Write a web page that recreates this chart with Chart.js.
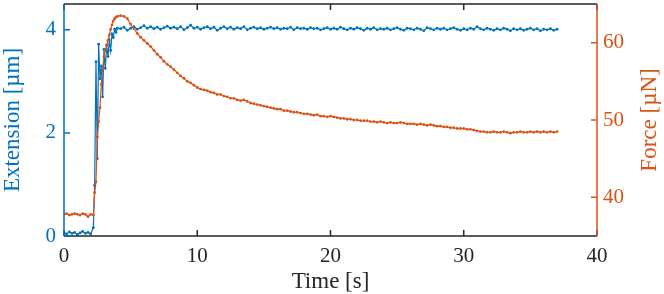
<!DOCTYPE html>
<html>
<head>
<meta charset="utf-8">
<script src="https://cdn.jsdelivr.net/npm/chart.js@4/dist/chart.umd.min.js"></script>
<style>
  html, body { margin: 0; padding: 0; background: #fff; }
  #wrap { width: 664px; height: 294px; position: relative; }
</style>
</head>
<body>
<div id="wrap"><canvas id="chart"></canvas></div>
<script>
// time base [s]
const times = [
    0, 0.2, 0.4, 0.6, 0.8, 1.0, 1.2, 1.4, 1.6, 1.8, 2.0, 2.2,
    2.3, 2.4, 2.5, 2.6, 2.7, 2.8, 2.9, 3.0, 3.1, 3.2, 3.3, 3.4, 3.5, 3.6, 3.7, 3.8, 3.9, 4.0,
    4.25, 4.5, 4.75, 5, 5.25, 5.5, 5.75, 6,
    6.25, 6.5, 6.75, 7, 7.25, 7.5, 7.75, 8,
    8.25, 8.5, 8.75, 9, 9.25, 9.5, 9.75, 10,
    10.25, 10.5, 10.75, 11, 11.25, 11.5, 11.75, 12,
    12.25, 12.5, 12.75, 13, 13.25, 13.5, 13.75, 14,
    14.25, 14.5, 14.75, 15, 15.25, 15.5, 15.75, 16,
    16.25, 16.5, 16.75, 17, 17.25, 17.5, 17.75, 18,
    18.25, 18.5, 18.75, 19, 19.25, 19.5, 19.75, 20,
    20.25, 20.5, 20.75, 21, 21.25, 21.5, 21.75, 22,
    22.25, 22.5, 22.75, 23, 23.25, 23.5, 23.75, 24,
    24.25, 24.5, 24.75, 25, 25.25, 25.5, 25.75, 26,
    26.25, 26.5, 26.75, 27, 27.25, 27.5, 27.75, 28,
    28.25, 28.5, 28.75, 29, 29.25, 29.5, 29.75, 30,
    30.25, 30.5, 30.75, 31, 31.25, 31.5, 31.75, 32,
    32.25, 32.5, 32.75, 33, 33.25, 33.5, 33.75, 34,
    34.25, 34.5, 34.75, 35, 35.25, 35.5, 35.75, 36,
    36.25, 36.5, 36.75, 37
];

// extension [um]
const extension = [
    0.06, 0.04, 0.08, 0.05, 0.07, 0.03, 0.06, 0.09, 0.05, 0.07, 0.04, 0.16,
    0.98, 3.38, 1.50, 3.72, 3.05, 3.30, 2.70, 3.62, 3.25, 3.70, 3.48, 3.80, 3.60, 3.92, 3.85, 4.01, 3.95, 4.03,
    4.02, 4.05, 3.99, 4.03, 4.06, 4.01, 4.04, 4.08,
    4.03, 4.06, 4.02, 4.05, 4.01, 4.04, 4.07, 4.03,
    4.05, 4.02, 4.06, 4.00, 4.04, 4.09, 4.03, 4.05,
    4.01, 4.04, 4.06, 4.02, 4.05, 3.99, 4.03, 4.06,
    4.02, 4.05, 4.01, 4.04, 4.02, 4.06, 4.00, 4.03,
    4.05, 4.02, 4.04, 4.01, 4.03, 4.05, 4.02, 4.04,
    4.01, 4.03, 4.02, 4.05, 4.00, 4.04, 4.02, 4.03,
    4.01, 4.04, 4.02, 4.03, 4.00, 4.02, 4.04, 4.01,
    4.03, 4.01, 4.05, 4.02, 4.00, 4.03, 4.01, 4.04,
    4.02, 3.99, 4.03, 4.01, 4.04, 4.00, 4.02, 4.01,
    4.03, 4.00, 4.02, 4.04, 4.01, 3.99, 4.03, 4.02,
    4.00, 4.03, 4.01, 3.98, 4.04, 4.02, 4.00, 4.03,
    4.01, 4.03, 4.00, 4.02, 4.04, 4.01, 3.99, 4.02,
    4.00, 4.03, 4.01, 4.06, 4.02, 4.00, 4.03, 4.01,
    3.99, 4.02, 4.00, 4.03, 4.01, 3.98, 4.02, 4.00,
    4.02, 3.99, 4.01, 4.03, 4.00, 4.02, 3.98, 4.01,
    4.00, 4.02, 3.99, 4.01
];

// force [uN]
const force = [
    37.8, 37.9, 37.7, 37.8, 37.9, 37.8, 37.7, 37.9, 37.8, 37.5, 37.8, 37.7,
    40.6, 42.0, 47.8, 49.8, 51.6, 54.6, 56.6, 58.2, 59.0, 59.7, 60.3, 61.0, 61.7, 62.3, 62.8, 63.1, 63.3, 63.4,
    63.5, 63.4, 63.1, 62.4, 61.8, 61.2, 60.7, 60.3,
    59.9, 59.5, 59.0, 58.5, 58.1, 57.6, 57.2, 56.9,
    56.5, 56.1, 55.7, 55.4, 55.0, 54.8, 54.5, 54.2,
    54.0, 53.9, 53.8, 53.6, 53.5, 53.3, 53.3, 53.1,
    53.0, 52.8, 52.8, 52.6, 52.5, 52.6, 52.4, 52.2,
    52.1, 52.0, 51.9, 51.8, 51.7, 51.6, 51.5, 51.4,
    51.4, 51.2, 51.2, 51.1, 51.0, 51.0, 50.9, 50.8,
    50.8, 50.7, 50.6, 50.7, 50.5, 50.5, 50.4, 50.5,
    50.4, 50.3, 50.2, 50.2, 50.1, 50.1, 50.0, 50.0,
    49.9, 49.9, 49.9, 49.8, 49.8, 49.7, 49.8, 49.7,
    49.6, 49.7, 49.6, 49.6, 49.7, 49.6, 49.5, 49.5,
    49.5, 49.4, 49.5, 49.4, 49.3, 49.4, 49.3, 49.2,
    49.2, 49.1, 49.1, 49.0, 49.0, 48.9, 48.9, 48.9,
    48.8, 48.8, 48.7, 48.6, 48.5, 48.5, 48.4, 48.4,
    48.5, 48.4, 48.4, 48.5, 48.4, 48.3, 48.4, 48.4,
    48.5, 48.4, 48.4, 48.5, 48.4, 48.5, 48.4, 48.5,
    48.4, 48.5, 48.4, 48.5
];

const xTicks = [0, 10, 20, 30, 40];
const leftTicks = [0, 2, 4];
const rightTicks = [40, 50, 60];

const BLUE = '#0072BD';
const ORANGE = '#D95319';
const DARK = '#262626';
const FONT = "'Liberation Serif', 'DejaVu Serif', serif";

const toPoints = (vals) => times.map((t, i) => ({ x: t, y: vals[i] }));
const setTicks = (list) => (scale) => { scale.ticks = list.map(v => ({ value: v })); };

// fixed axis sizes, no extra room for half labels
const fitY = (w) => (s) => { s.width = w; s.paddingTop = 0; s.paddingBottom = 0; };
const fitX = (h) => (s) => { s.height = h; s.paddingLeft = 0; s.paddingRight = 0; };

// box, inward ticks and right-hand label (reads bottom to top, like the left one)
const frame = {
    id: 'frame',
    afterDraw(chart) {
        const { ctx, chartArea: a, scales } = chart;
        const len = 6;
        ctx.save();
        ctx.lineWidth = 1.5;

        ctx.strokeStyle = DARK;
        ctx.beginPath();
        ctx.moveTo(a.left, a.top); ctx.lineTo(a.right, a.top);
        ctx.moveTo(a.left, a.bottom); ctx.lineTo(a.right, a.bottom);
        xTicks.forEach(v => {
            const px = scales.x.getPixelForValue(v);
            ctx.moveTo(px, a.bottom); ctx.lineTo(px, a.bottom - len);
            ctx.moveTo(px, a.top); ctx.lineTo(px, a.top + len);
        });
        ctx.stroke();

        ctx.strokeStyle = BLUE;
        ctx.beginPath();
        ctx.moveTo(a.left, a.top); ctx.lineTo(a.left, a.bottom);
        leftTicks.forEach(v => {
            const py = scales.y.getPixelForValue(v);
            ctx.moveTo(a.left, py); ctx.lineTo(a.left + len, py);
        });
        ctx.stroke();

        ctx.strokeStyle = ORANGE;
        ctx.beginPath();
        ctx.moveTo(a.right, a.top); ctx.lineTo(a.right, a.bottom);
        rightTicks.forEach(v => {
            const py = scales.y2.getPixelForValue(v);
            ctx.moveTo(a.right, py); ctx.lineTo(a.right - len, py);
        });
        ctx.stroke();

        ctx.translate(650, (a.top + a.bottom) / 2);
        ctx.rotate(-Math.PI / 2);
        ctx.fillStyle = ORANGE;
        ctx.font = `23px ${FONT}`;
        ctx.textAlign = 'center';
        ctx.textBaseline = 'middle';
        ctx.fillText('Force [µN]', 0, 0);
        ctx.restore();
    }
};

new Chart(document.getElementById('chart'), {
    type: 'line',
    data: {
        datasets: [
            {
                label: 'Force',
                data: toPoints(force),
                yAxisID: 'y2',
                order: 0,
                borderColor: ORANGE,
                backgroundColor: ORANGE,
                borderWidth: 1.2,
                pointRadius: 1.4,
                pointBorderWidth: 0,
                tension: 0
            },
            {
                label: 'Extension',
                data: toPoints(extension),
                yAxisID: 'y',
                order: 1,
                borderColor: BLUE,
                backgroundColor: BLUE,
                borderWidth: 1.2,
                pointRadius: 1.4,
                pointBorderWidth: 0,
                tension: 0
            }
        ]
    },
    options: {
        responsive: true,
        maintainAspectRatio: false,
        animation: false,
        layout: { padding: { top: 1, left: 0, right: 0, bottom: 0 } },
        plugins: { legend: { display: false }, tooltip: { enabled: false } },
        scales: {
            x: {
                type: 'linear',
                min: 0, max: 40,
                afterBuildTicks: setTicks(xTicks),
                afterFit: fitX(58),
                grid: { display: false, drawTicks: false },
                border: { display: false },
                ticks: { color: DARK, padding: 8, font: { family: FONT, size: 21 } },
                title: { display: true, text: 'Time [s]', color: DARK, padding: { top: 0, bottom: -2 }, font: { family: FONT, size: 23 } }
            },
            y: {
                type: 'linear',
                position: 'left',
                min: 0, max: 4.5,
                afterBuildTicks: setTicks(leftTicks),
                afterFit: fitY(64),
                grid: { display: false, drawTicks: false },
                border: { display: false },
                ticks: { color: BLUE, padding: 8, font: { family: FONT, size: 21 } },
                title: { display: true, text: 'Extension [µm]', color: BLUE, padding: { top: -1, bottom: 0 }, font: { family: FONT, size: 23 } }
            },
            y2: {
                type: 'linear',
                position: 'right',
                min: 35, max: 65,
                afterBuildTicks: setTicks(rightTicks),
                afterFit: fitY(67),
                grid: { display: false, drawTicks: false },
                border: { display: false },
                ticks: { color: ORANGE, padding: 6, font: { family: FONT, size: 21 } }
            }
        }
    },
    plugins: [frame]
});
</script>
</body>
</html>
